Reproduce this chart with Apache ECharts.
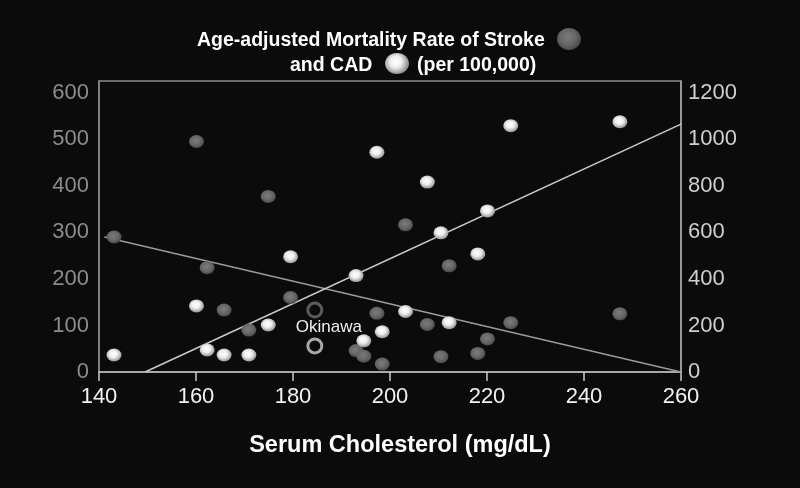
<!DOCTYPE html>
<html>
<head>
<meta charset="utf-8">
<script src="https://cdn.jsdelivr.net/npm/echarts@6/dist/echarts.min.js"></script>
<style>
html,body{margin:0;padding:0;background:#0b0b0b;}
#chart{width:800px;height:488px;}
</style>
</head>
<body>
<div id="chart"></div>
<script>
// Serum cholesterol (mg/dL) for each country, stroke series
const cholStroke = [143.1, 160.1, 162.3, 165.8, 170.9, 174.9, 179.5, 197.3, 193.0, 194.6, 198.4, 203.2, 207.7, 212.2, 210.5, 218.1, 220.1, 224.9, 247.4];
// Age-adjusted stroke mortality (per 100,000), left axis
const strokeRate = [290, 495, 224, 133, 90, 377, 160, 126, 46, 34, 17, 316, 102, 228, 33, 40, 71, 106, 125];
// Serum cholesterol for CAD series
const cholCAD = [143.1, 160.1, 162.3, 165.8, 170.9, 174.9, 179.5, 193.0, 194.6, 197.3, 198.4, 203.2, 207.7, 210.5, 212.2, 218.1, 220.1, 224.9, 247.4];
// Age-adjusted CAD mortality (per 100,000), right axis
const cadRate = [73, 284, 95, 73, 73, 202, 495, 414, 134, 944, 173, 260, 816, 598, 212, 507, 692, 1058, 1075];
// Okinawa
const okinawaChol = 184.5;
const okinawaStroke = 133;
const okinawaCAD = 112;
// Regression lines
const strokeTrend = [[141.1, 290], [260, 0]];
const cadTrend = [[149.5, 0], [260, 1065]];
// Axes
const xTicks = {min: 140, max: 260, interval: 20};
const leftTicks = {min: 0, max: 625, interval: 100};
const rightTicks = {min: 0, max: 1250, interval: 200};

const FONT = "'Liberation Sans', Arial, sans-serif";

function radial(stops) {
  return {type: 'radial', x: 0.45, y: 0.42, r: 0.6,
    colorStops: stops.map((c) => ({offset: c[0], color: c[1]}))};
}
const darkBall = radial([[0, '#7c7c7c'], [0.6, '#666666'], [1, '#474747']]);
const lightBall = radial([[0, '#ffffff'], [0.45, '#eeeeee'], [1, '#8e8e8e']]);

const chart = echarts.init(document.getElementById('chart'));
chart.setOption({
  backgroundColor: '#0b0b0b',
  animation: false,
  grid: {left: 99, right: 119, top: 81, bottom: 116, show: true,
    borderColor: '#8a8a8a', borderWidth: 1.5, backgroundColor: 'transparent'},
  xAxis: {
    type: 'value', min: xTicks.min, max: xTicks.max, interval: xTicks.interval,
    name: 'Serum Cholesterol (mg/dL)', nameLocation: 'middle', nameGap: 62,
    nameTextStyle: {color: '#ffffff', fontSize: 23.5, fontWeight: 'bold', fontFamily: FONT, padding: [0, 0, 0, 20]},
    axisLine: {show: true, lineStyle: {color: '#bdbdbd', width: 1.5}},
    axisTick: {show: true, length: 9, lineStyle: {color: '#cccccc', width: 1.5}},
    axisLabel: {color: '#f2f2f2', fontSize: 22, fontFamily: FONT, margin: 14, formatter: (v) => String(v)},
    splitLine: {show: false}
  },
  yAxis: [{
    type: 'value', min: leftTicks.min, max: leftTicks.max, interval: leftTicks.interval,
    position: 'left',
    axisLine: {show: true, lineStyle: {color: '#8a8a8a', width: 1.5}},
    axisTick: {show: false},
    axisLabel: {color: '#8c8c8c', fontSize: 22, fontFamily: FONT, margin: 10, showMaxLabel: false,
      padding: [5, 0, 0, 0], formatter: (v) => String(v)},
    splitLine: {show: false}
  }, {
    type: 'value', min: rightTicks.min, max: rightTicks.max, interval: rightTicks.interval,
    position: 'right',
    axisLine: {show: true, lineStyle: {color: '#a8a8a8', width: 1.5}},
    axisTick: {show: false},
    axisLabel: {color: '#cfcfcf', fontSize: 22, fontFamily: FONT, margin: 7, showMaxLabel: false,
      formatter: (v) => String(v)},
    splitLine: {show: false}
  }],
  graphic: [
    {type: 'text', left: 197, top: 31, style: {text: 'Age-adjusted Mortality Rate of Stroke', fill: '#ffffff',
      font: "bold 19.5px 'Liberation Sans', Arial, sans-serif"}},
    {type: 'ellipse', shape: {cx: 569, cy: 39, rx: 12, ry: 11}, style: {fill: darkBall}},
    {type: 'text', left: 290, top: 56, style: {text: 'and CAD', fill: '#ffffff',
      font: "bold 19.5px 'Liberation Sans', Arial, sans-serif"}},
    {type: 'ellipse', shape: {cx: 397, cy: 63.5, rx: 12, ry: 10.5}, style: {fill: lightBall}},
    {type: 'text', left: 417, top: 56, style: {text: '(per 100,000)', fill: '#ffffff',
      font: "bold 19.5px 'Liberation Sans', Arial, sans-serif"}}
  ],
  series: [
    {type: 'line', name: 'Stroke trend', yAxisIndex: 0, data: strokeTrend, symbol: 'none', z: 1,
      lineStyle: {color: '#9a9a9a', width: 1.5}},
    {type: 'line', name: 'CAD trend', yAxisIndex: 1, data: cadTrend, symbol: 'none', z: 1,
      lineStyle: {color: '#cbcbcb', width: 1.5}},
    {type: 'scatter', name: 'Stroke', yAxisIndex: 0, z: 3, symbolSize: [15, 13],
      data: cholStroke.map((x, i) => [x, strokeRate[i]]),
      itemStyle: {color: darkBall, opacity: 1}},
    {type: 'scatter', name: 'CAD', yAxisIndex: 1, z: 3, symbolSize: [15, 13],
      data: cholCAD.map((x, i) => [x, cadRate[i]]),
      itemStyle: {color: lightBall, opacity: 1}},
    {type: 'scatter', name: 'Okinawa Stroke', yAxisIndex: 0, z: 4, symbolSize: 14,
      data: [[okinawaChol, okinawaStroke]],
      itemStyle: {color: 'transparent', borderColor: '#5a5a5a', borderWidth: 3, opacity: 1},
      label: {show: true, formatter: 'Okinawa', position: 'inside', offset: [14, 17],
        color: '#eeeeee', fontSize: 17, fontFamily: FONT}},
    {type: 'scatter', name: 'Okinawa CAD', yAxisIndex: 1, z: 4, symbolSize: 14,
      data: [[okinawaChol, okinawaCAD]],
      itemStyle: {color: 'transparent', borderColor: '#a8a8a8', borderWidth: 3, opacity: 1}}
  ]
});
</script>
</body>
</html>
